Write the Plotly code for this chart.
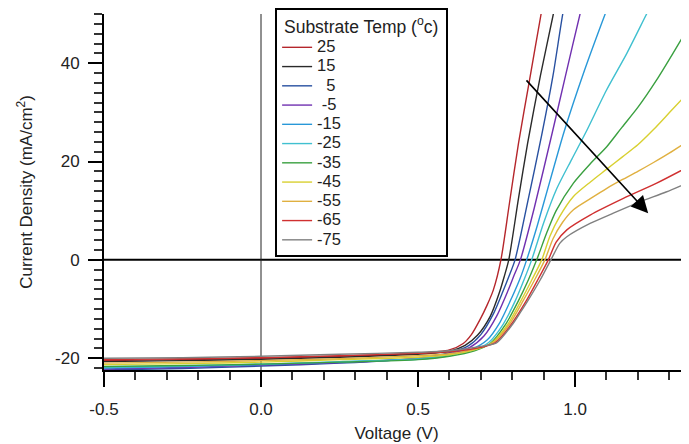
import plotly.graph_objects as go

# ---- data ----
labels = ["25", "15", "\u00a0\u00a05", "\u00a0-5", "-15", "-25", "-35", "-45", "-55", "-65", "-75"]
colors = ["#B5262B", "#2a2a2a", "#2850A0", "#7030B0", "#2898D8", "#40C0D0",
          "#3AA040", "#D8D030", "#E0B040", "#D03030", "#808080"]

v_25 = [-0.5, -0.25, 0, 0.25, 0.5, 0.6, 0.644, 0.67, 0.697, 0.72, 0.74, 0.764, 0.79, 0.82, 0.855, 0.892, 0.91]
j_25 = [-20.5, -20.3, -20.0, -19.6, -19.0, -18.3, -17.0, -15.2, -12.2, -9.2, -6.1, 0, 11.0, 23.7, 36.5, 50, 56]

v_15 = [-0.5, -0.25, 0, 0.25, 0.5, 0.6, 0.65, 0.69, 0.73, 0.76, 0.775, 0.789, 0.82, 0.849, 0.89, 0.931, 0.95]
j_15 = [-20.7, -20.5, -20.2, -19.8, -19.2, -18.6, -17.4, -15.3, -11.5, -6.5, -3.3, 0, 12.5, 23.7, 37.5, 50, 56]

v_5 = [-0.5, -0.25, 0, 0.25, 0.5, 0.6, 0.66, 0.7, 0.74, 0.77, 0.79, 0.809, 0.85, 0.894, 0.93, 0.961, 0.98]
j_5 = [-22.4, -22.1, -21.6, -21.0, -20.0, -18.9, -17.5, -15.2, -11.0, -6.5, -3.3, 0, 12.0, 25.4, 37.5, 50, 56]

v_m5 = [-0.5, -0.25, 0, 0.25, 0.5, 0.6, 0.665, 0.71, 0.75, 0.785, 0.805, 0.826, 0.87, 0.928, 0.97, 1.016, 1.04]
j_m5 = [-22.2, -21.9, -21.4, -20.9, -20.0, -19.1, -17.8, -15.5, -11.5, -6.5, -3.3, 0, 10.5, 26.0, 37.5, 50, 56]

v_m15 = [-0.5, -0.25, 0, 0.25, 0.5, 0.6, 0.67, 0.72, 0.76, 0.8, 0.825, 0.846, 0.88, 0.92, 0.965, 1.03, 1.096, 1.12]
j_m15 = [-22.0, -21.7, -21.3, -20.8, -20.1, -19.3, -18.2, -16.3, -12.8, -7.5, -3.8, 0, 7.0, 16.0, 26.0, 38.5, 50, 54]

v_m25 = [-0.5, -0.25, 0, 0.25, 0.5, 0.6, 0.675, 0.725, 0.77, 0.81, 0.838, 0.862, 0.9, 0.942, 0.99, 1.035, 1.1, 1.165, 1.228, 1.26]
j_m25 = [-21.9, -21.6, -21.2, -20.7, -20.2, -19.5, -18.4, -16.8, -13.2, -8.3, -4.0, 0, 7.5, 14.5, 20.5, 26.0, 34.5, 42.0, 50, 54]

v_m35 = [-0.5, -0.25, 0, 0.25, 0.5, 0.6, 0.68, 0.73, 0.78, 0.82, 0.852, 0.878, 0.91, 0.94, 0.995, 1.048, 1.101, 1.15, 1.2, 1.26, 1.31, 1.363]
j_m35 = [-21.7, -21.5, -21.2, -20.8, -20.3, -19.6, -18.5, -17.0, -13.0, -8.3, -4.0, 0, 5.5, 10.0, 15.6, 19.5, 23.0, 27.0, 31.0, 36.6, 41.8, 47.5]

v_m45 = [-0.5, -0.25, 0, 0.25, 0.5, 0.6, 0.685, 0.735, 0.785, 0.828, 0.863, 0.894, 0.92, 0.95, 0.995, 1.05, 1.1, 1.15, 1.2, 1.25, 1.3, 1.363]
j_m45 = [-21.3, -21.1, -20.8, -20.3, -19.8, -19.3, -18.2, -16.9, -13.2, -8.3, -4.0, 0, 4.8, 8.7, 12.9, 15.9, 18.4, 20.9, 23.4, 26.5, 29.9, 34.2]

v_m55 = [-0.5, -0.25, 0, 0.25, 0.5, 0.6, 0.69, 0.74, 0.79, 0.835, 0.872, 0.904, 0.93, 0.96, 0.995, 1.05, 1.1, 1.15, 1.2, 1.25, 1.3, 1.363]
j_m55 = [-21.0, -20.8, -20.5, -20.1, -19.5, -19.1, -18.0, -16.8, -13.2, -8.3, -4.0, 0, 4.3, 7.6, 10.2, 12.5, 14.5, 16.3, 18.0, 19.8, 21.7, 24.3]

v_m65 = [-0.5, -0.25, 0, 0.25, 0.5, 0.6, 0.7, 0.745, 0.795, 0.845, 0.882, 0.915, 0.94, 0.974, 1.048, 1.154, 1.26, 1.363]
j_m65 = [-20.3, -20.1, -19.9, -19.5, -19.0, -18.7, -17.8, -16.9, -13.3, -8.3, -4.0, 0, 3.6, 6.1, 9.1, 12.5, 15.6, 19.0]

v_m75 = [-0.5, -0.25, 0, 0.25, 0.5, 0.6, 0.7, 0.75, 0.8, 0.825, 0.85, 0.889, 0.923, 0.952, 0.974, 1.048, 1.122, 1.207, 1.29, 1.363]
j_m75 = [-20.0, -19.9, -19.6, -19.2, -18.8, -18.5, -17.6, -16.9, -13.2, -10.8, -8.3, -4.1, 0, 3.4, 4.7, 7.4, 9.5, 11.8, 13.8, 15.8]

voltages = [v_25, v_15, v_5, v_m5, v_m15, v_m25, v_m35, v_m45, v_m55, v_m65, v_m75]
currents = [j_25, j_15, j_5, j_m5, j_m15, j_m25, j_m35, j_m45, j_m55, j_m65, j_m75]

x_range = [-0.5, 1.363]
y_range = [-22.4, 50]
x_ticks = [-0.5, 0.0, 0.5, 1.0]
x_ticktext = ["-0.5", "0.0", "0.5", "1.0"]
y_ticks = [-20, 0, 20, 40]
y_ticktext = ["-20", "0", "20", "40"]
arrow_start = (0.841, 36.8)
arrow_end = (1.233, 9.5)

FONT = "Liberation Sans, Arial, sans-serif"

fig = go.Figure()
for v, j, name, c in zip(voltages, currents, labels, colors):
    fig.add_trace(go.Scatter(x=v, y=j, mode="lines",
                             name='<span style="font-size:16.5px">' + name + '</span>',
                             line=dict(color=c, width=1.4, shape="spline", smoothing=0.7)))

# zero lines
fig.add_shape(type="line", x0=x_range[0], x1=x_range[1], y0=0, y1=0, xref="x", yref="y",
              line=dict(color="black", width=2), layer="below")
fig.add_shape(type="line", x0=0, x1=0, y0=y_range[0], y1=y_range[1], xref="x", yref="y",
              line=dict(color="#222", width=1), layer="below")

fig.add_annotation(x=arrow_end[0], y=arrow_end[1], ax=arrow_start[0], ay=arrow_start[1],
                   xref="x", yref="y", axref="x", ayref="y", text="", showarrow=True,
                   arrowhead=2, arrowsize=2.1, arrowwidth=1.6, arrowcolor="black", standoff=0)

# the page body has an 8px default margin: size the figure so it fills the window
fig.update_layout(
    width=681, height=436,
    margin=dict(l=96, r=0, t=6, b=74, autoexpand=False),
    paper_bgcolor="white", plot_bgcolor="white",
    font=dict(family=FONT, size=16, color="#222"),
    showlegend=True,
    legend=dict(x=0.2925, y=1.017, xanchor="left", yanchor="top",
                bgcolor="white", bordercolor="black", borderwidth=2,
                font=dict(size=12.5, color="#222"), maxheight=440,
                title=dict(text="\u00a0Substrate Temp (<sup>o</sup>c)\u00a0", font=dict(size=17.5)),
                tracegroupgap=0, itemwidth=30),
    xaxis=dict(range=x_range, tickvals=x_ticks, ticktext=x_ticktext, ticks="outside",
               ticklen=15, tickwidth=2, tickcolor="black", showline=True, linewidth=2,
               linecolor="black", showgrid=False, zeroline=False, automargin=False,
               ticklabelstandoff=8,
               minor=dict(dtick=0.1, ticks="outside", ticklen=8, tickwidth=1.5, tickcolor="#333", showgrid=False),
               title=dict(text="Voltage (V)", font=dict(size=17), standoff=9),
               tickfont=dict(size=17)),
    yaxis=dict(range=y_range, tickvals=y_ticks, ticktext=y_ticktext, ticks="outside",
               ticklen=14, tickwidth=2, tickcolor="black", showline=True, linewidth=2,
               linecolor="black", showgrid=False, zeroline=False, automargin=False,
               ticklabelstandoff=5,
               minor=dict(dtick=2, tick0=0, ticks="outside", ticklen=8, tickwidth=1.5, tickcolor="#333", showgrid=False),
               title=dict(text="Current Density (mA/cm<sup>2</sup>)", font=dict(size=17), standoff=18),
               tickfont=dict(size=17)),
)

fig.write_html("out.html")
